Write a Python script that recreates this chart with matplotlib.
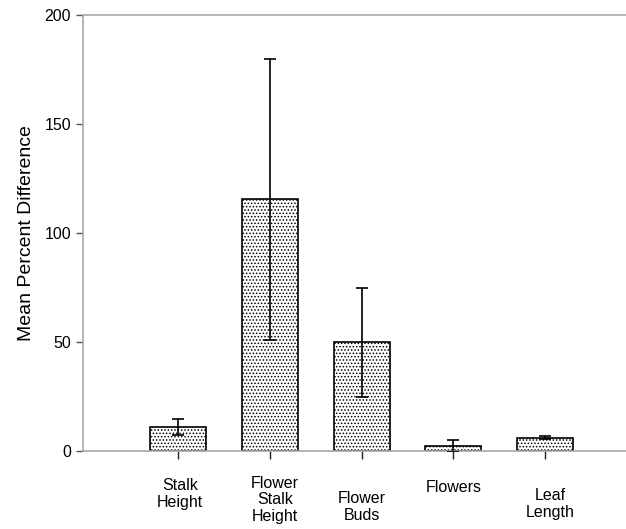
import matplotlib
matplotlib.use("Agg")
import matplotlib.pyplot as plt

categories = ["Stalk\nHeight", "Flower\nStalk\nHeight", "Flower\nBuds", "Flowers", "Leaf\nLength"]
means = [11, 115.5, 50, 2.2, 6.1]
errors = [3.7, 64.5, 25, 2.8, 0.8]
yticks = [0, 50, 100, 150, 200]

# label vertical offsets below the axis (pixels)
label_offsets = [43, 49, 56, 36, 53]
label_dx = [2, 5, 0, 0, 5]

plt.rcParams['font.family'] = ['Liberation Sans', 'DejaVu Sans']
plt.rcParams['hatch.linewidth'] = 0.7
plt.rcParams['hatch.color'] = '#555555'

fig = plt.figure(figsize=(6.26, 5.29), dpi=100)
ax = fig.add_axes([83/626, 1-451/529, 1-83/626, 436/529])

x = list(range(len(categories)))
ax.bar(x, means, width=0.61, facecolor='white', edgecolor='black',
       linewidth=1.2, hatch='.....', zorder=2)
ax.errorbar(x, means, yerr=errors, fmt='none', ecolor='black',
            elinewidth=1.2, capsize=4.3, capthick=1.2, zorder=3)

ax.set_xlim(-1.035, 4.88)
ax.set_ylim(0, 200)
ax.set_yticks(yticks)
ax.set_yticklabels([str(v) for v in yticks], fontsize=11.5)
ax.set_ylabel("Mean Percent Difference", fontsize=14, labelpad=7)

ax.set_xticks(x)
ax.set_xticklabels([])
ax.tick_params(axis='x', direction='out', length=6, width=1, color='#222222')
ax.tick_params(axis='y', direction='out', length=5, width=1, color='#555555')

for spine in ['left', 'bottom', 'top']:
    ax.spines[spine].set_color('#a8a8a8')
    ax.spines[spine].set_linewidth(1.2)
ax.spines['right'].set_visible(False)

for i, lab in enumerate(categories):
    ax.annotate(lab, xy=(i, 0), xytext=(label_dx[i], -label_offsets[i]),
                textcoords='offset pixels', ha='center', va='center',
                fontsize=11.5, linespacing=1.1, annotation_clip=False)

fig.savefig("out.png", dpi=100)
